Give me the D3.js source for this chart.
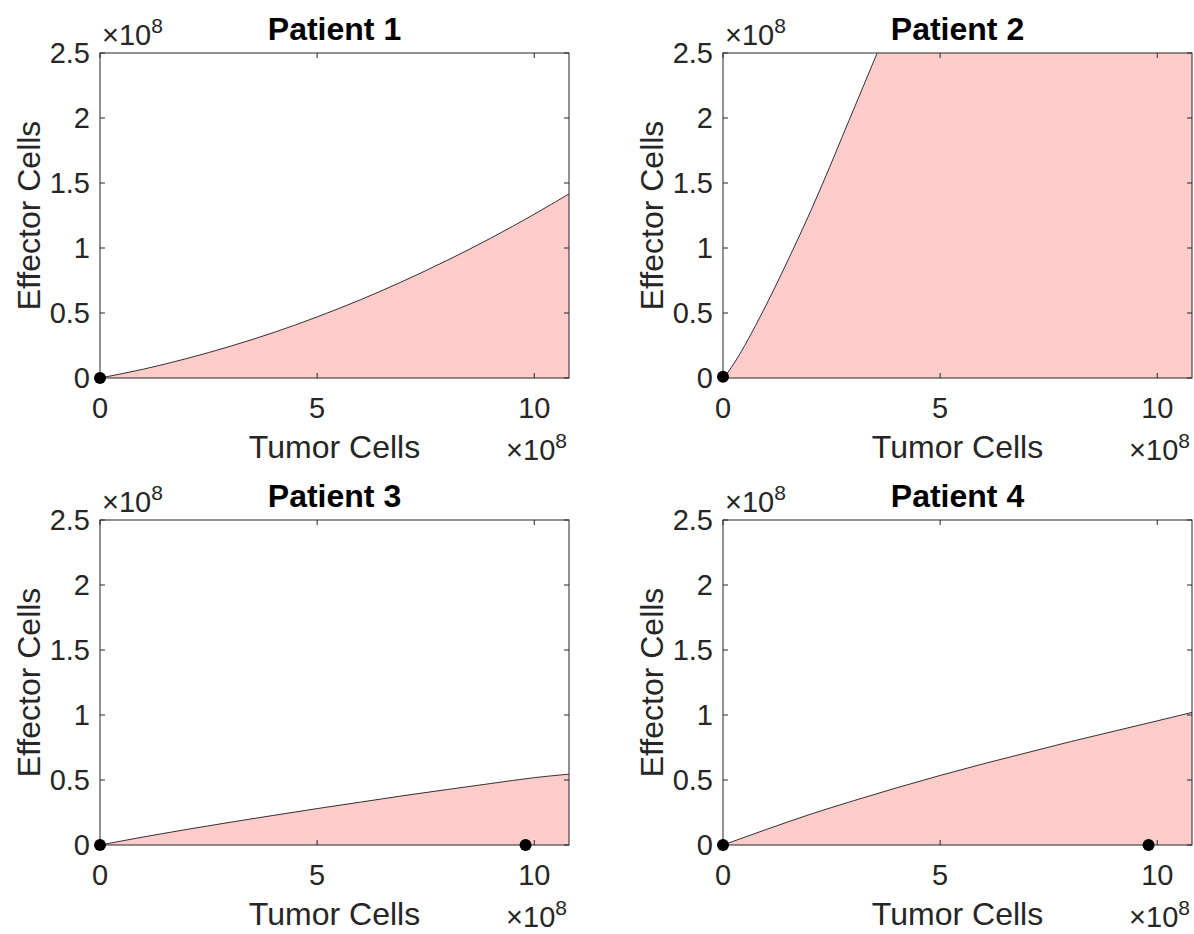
<!DOCTYPE html>
<meta charset="utf-8">
<style>
  body { margin: 0; background: #fff; }
  svg { display: block; font-family: "Liberation Sans", Arial, sans-serif; }
  .tick-label { font-size: 29px; fill: #262626; }
  .axis-label { font-size: 32px; fill: #262626; }
  .title { font-size: 32px; font-weight: bold; fill: #000; }
</style>
<svg width="1194" height="934"></svg>
<script src="https://d3js.org/d3.v7.min.js"></script>
<script>
  // values (x in 1e8 tumor cells, y in 1e8 effector cells)
  var patients = ["Patient 1", "Patient 2", "Patient 3", "Patient 4"];

  var tumor1 = [0, 1, 2, 3, 4, 5, 6, 7, 8, 9, 10, 10.8];
  var effector1 = [0, 0.068, 0.15, 0.244, 0.35, 0.47, 0.602, 0.748, 0.906, 1.076, 1.26, 1.416];

  var tumor2 = [0, 0.1, 0.2, 0.4, 0.6, 0.9, 1.2, 1.6, 2.0, 2.3, 2.9, 3.5, 4.5, 6, 8, 10.8];
  var effector2 = [0, 0.038, 0.085, 0.192, 0.31, 0.5, 0.7, 0.98, 1.27, 1.5, 1.98, 2.46, 3.3, 4.6, 6.4, 9.0];

  var tumor3 = [0, 1, 2, 3, 4, 5, 6, 7, 8, 9, 10, 10.8];
  var effector3 = [0, 0.062, 0.12, 0.175, 0.228, 0.28, 0.33, 0.38, 0.427, 0.473, 0.518, 0.545];

  var tumor4 = [0, 1, 2, 3, 4, 5, 6, 7, 8, 9, 10, 10.8];
  var effector4 = [0, 0.12, 0.235, 0.34, 0.44, 0.535, 0.625, 0.71, 0.795, 0.875, 0.955, 1.02];

  // equilibrium points (black dots)
  var eqTumor = [[0], [0], [0, 9.8], [0, 9.8]];
  var eqEffector = [[0], [0.01], [0, 0], [0, 0]];

  var xDomain = [0, 10.8];
  var yDomain = [0, 2.5];
  var xTicks = [0, 5, 10];
  var yTicks = [0, 0.5, 1, 1.5, 2, 2.5];
  var yTickLabels = ["0", "0.5", "1", "1.5", "2", "2.5"];

  var tumorSets = [tumor1, tumor2, tumor3, tumor4];
  var effectorSets = [effector1, effector2, effector3, effector4];

  var svg = d3.select("svg");
  var plotW = 469, plotH = 325;
  var origins = [[100, 53], [723, 53], [100, 520], [723, 520]];
  var axisColor = "#262626";
  var tickLen = 5;

  patients.forEach(function(name, i) {
    var ox = origins[i][0], oy = origins[i][1];
    var g = svg.append("g").attr("transform", "translate(" + ox + "," + oy + ")");

    var x = d3.scaleLinear().domain(xDomain).range([0, plotW]);
    var y = d3.scaleLinear().domain(yDomain).range([plotH, 0]);

    var pts = tumorSets[i].map(function(t, k) { return [t, effectorSets[i][k]]; });

    g.append("clipPath").attr("id", "clip" + i)
      .append("rect").attr("width", plotW).attr("height", plotH);

    var plot = g.append("g").attr("clip-path", "url(#clip" + i + ")");

    plot.append("path")
      .datum(pts)
      .attr("fill", "#ffcccc")
      .attr("d", d3.area()
        .x(function(d) { return x(d[0]); })
        .y0(y(0))
        .y1(function(d) { return y(d[1]); })
        .curve(d3.curveMonotoneX));

    plot.append("path")
      .datum(pts)
      .attr("fill", "none")
      .attr("stroke", "#000")
      .attr("stroke-width", 0.8)
      .attr("d", d3.line()
        .x(function(d) { return x(d[0]); })
        .y(function(d) { return y(d[1]); })
        .curve(d3.curveMonotoneX));

    // box
    g.append("rect")
      .attr("width", plotW).attr("height", plotH)
      .attr("fill", "none")
      .attr("stroke", axisColor)
      .attr("stroke-width", 1);

    // ticks, mirrored on all sides, pointing inward
    xTicks.forEach(function(t) {
      g.append("line").attr("x1", x(t)).attr("x2", x(t))
        .attr("y1", plotH).attr("y2", plotH - tickLen)
        .attr("stroke", axisColor);
      g.append("line").attr("x1", x(t)).attr("x2", x(t))
        .attr("y1", 0).attr("y2", tickLen)
        .attr("stroke", axisColor);
      g.append("text").attr("class", "tick-label")
        .attr("x", x(t)).attr("y", plotH + 40)
        .attr("text-anchor", "middle")
        .text(t);
    });

    yTicks.forEach(function(t, k) {
      g.append("line").attr("x1", 0).attr("x2", tickLen)
        .attr("y1", y(t)).attr("y2", y(t))
        .attr("stroke", axisColor);
      g.append("line").attr("x1", plotW).attr("x2", plotW - tickLen)
        .attr("y1", y(t)).attr("y2", y(t))
        .attr("stroke", axisColor);
      g.append("text").attr("class", "tick-label")
        .attr("x", -10).attr("y", y(t) + 10)
        .attr("text-anchor", "end")
        .text(yTickLabels[k]);
    });

    // exponent markers
    var ey = g.append("text").attr("class", "tick-label")
      .attr("x", 2).attr("y", -8);
    ey.append("tspan").text("\u00d710");
    ey.append("tspan").attr("dy", -12).attr("font-size", "21px").text("8");

    var ex = g.append("text").attr("class", "tick-label")
      .attr("x", plotW - 2).attr("y", plotH + 82)
      .attr("text-anchor", "end");
    ex.append("tspan").text("\u00d710");
    ex.append("tspan").attr("dy", -12).attr("font-size", "21px").text("8");

    // labels
    g.append("text").attr("class", "axis-label")
      .attr("x", plotW / 2).attr("y", plotH + 80)
      .attr("text-anchor", "middle")
      .text("Tumor Cells");

    g.append("text").attr("class", "axis-label")
      .attr("transform", "translate(" + (-60) + "," + (plotH / 2) + ") rotate(-90)")
      .attr("text-anchor", "middle")
      .text("Effector Cells");

    g.append("text").attr("class", "title")
      .attr("x", plotW / 2).attr("y", -13)
      .attr("text-anchor", "middle")
      .text(name);

    // equilibrium dots
    eqTumor[i].forEach(function(t, k) {
      g.append("circle")
        .attr("cx", x(t)).attr("cy", y(eqEffector[i][k]))
        .attr("r", 6)
        .attr("fill", "#000");
    });
  });
</script>
